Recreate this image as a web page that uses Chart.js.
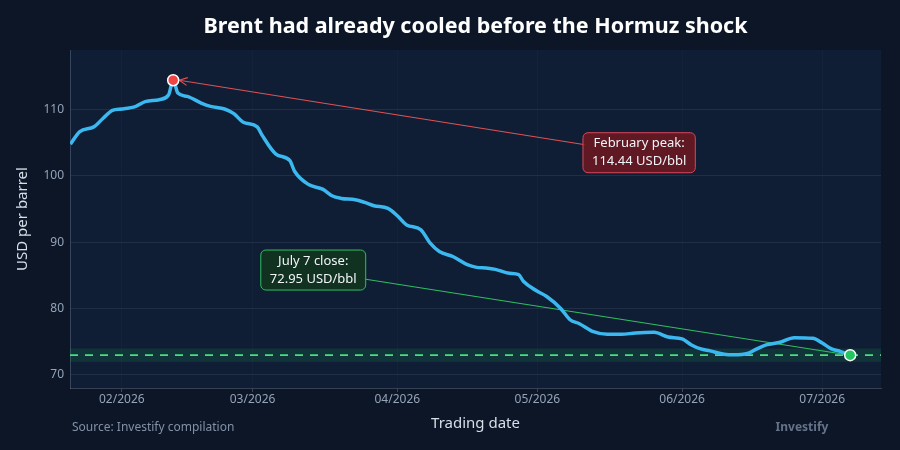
<!DOCTYPE html>
<html>
<head>
<meta charset="utf-8">
<script src="https://cdn.jsdelivr.net/npm/chart.js@4/dist/chart.umd.min.js"></script>
<style>
  html, body { margin: 0; padding: 0; background: #0c1627; }
  #wrap { width: 900px; height: 450px; position: relative; }
</style>
</head>
<body>
<div id="wrap"><canvas id="brent" width="900" height="450"></canvas></div>
<script>
(function() {

    "use strict";

    // Brent daily close, USD/bbl
    const dates = [
        '2026-01-21', '2026-01-23', '2026-01-26', '2026-01-28', '2026-01-30',
        '2026-02-01', '2026-02-04', '2026-02-06', '2026-02-09', '2026-02-11',
        '2026-02-12', '2026-02-13', '2026-02-15', '2026-02-18', '2026-02-20',
        '2026-02-23', '2026-02-25', '2026-02-27', '2026-03-02', '2026-03-03',
        '2026-03-06', '2026-03-09', '2026-03-10', '2026-03-13', '2026-03-16',
        '2026-03-18', '2026-03-20', '2026-03-23', '2026-03-25', '2026-03-27',
        '2026-03-30', '2026-04-01', '2026-04-03', '2026-04-06', '2026-04-08',
        '2026-04-10', '2026-04-13', '2026-04-16', '2026-04-18', '2026-04-20',
        '2026-04-22', '2026-04-25', '2026-04-27', '2026-04-28', '2026-05-01',
        '2026-05-03', '2026-05-06', '2026-05-08', '2026-05-10', '2026-05-13',
        '2026-05-16', '2026-05-19', '2026-05-22', '2026-05-26', '2026-05-29',
        '2026-06-01', '2026-06-03', '2026-06-05', '2026-06-07', '2026-06-10',
        '2026-06-12', '2026-06-15', '2026-06-17', '2026-06-19', '2026-06-22',
        '2026-06-25', '2026-06-29', '2026-07-01', '2026-07-03', '2026-07-05',
        '2026-07-07'
    ];
    const prices = [
        104.8, 106.7, 107.4, 108.7, 109.9,
        110.1, 110.5, 111.2, 111.5, 112.2,
        114.44, 112.5, 112.0, 111.0, 110.5,
        110.1, 109.4, 108.1, 107.4, 106.2,
        103.3, 102.3, 100.7, 98.7, 98.0,
        97.0, 96.6, 96.4, 96.0, 95.5,
        95.1, 94.0, 92.6, 91.9, 89.9,
        88.6, 87.8, 86.6, 86.2, 86.1,
        85.9, 85.3, 85.1, 84.1, 82.6,
        81.8, 80.0, 78.3, 77.7, 76.5,
        76.1, 76.1, 76.3, 76.4, 75.7,
        75.4, 74.5, 73.9, 73.6, 73.1,
        73.0, 73.2, 73.9, 74.5, 74.9,
        75.6, 75.5, 74.8, 73.9, 73.5,
        72.95
    ];
    const monthTicks = ['2026-02-01', '2026-03-01', '2026-04-01', '2026-05-01', '2026-06-01', '2026-07-01'];
    const yTicks = [70, 80, 90, 100, 110];

    const peakDate = '2026-02-12', peakValue = 114.44;
    const closeDate = '2026-07-07', closeValue = 72.95;

    const colors = {
        page: '#0c1627',
        plot: '#0f1d35',
        line: '#3bb8f0',
        grid: 'rgba(148,163,184,0.13)',
        tick: '#94a3b8',
        label: '#d7dee8',
        red: '#ef4444',
        green: '#22c55e'
    };

    const base = Date.UTC(2026, 0, 1);
    function dayNum(s) {
        const p = s.split('-');
        return Math.round((Date.UTC(+p[0], +p[1] - 1, +p[2]) - base) / 86400000);
    }
    function dayLabel(d) {
        const dt = new Date(base + d * 86400000);
        return String(dt.getUTCMonth() + 1).padStart(2, '0') + '/' + dt.getUTCFullYear();
    }

    const points = dates.map((d, i) => ({ x: dayNum(d), y: prices[i] }));
    const tickDays = monthTicks.map(dayNum);

    function roundRect(ctx, x, y, w, h, r) {
        ctx.beginPath();
        ctx.moveTo(x + r, y);
        ctx.arcTo(x + w, y, x + w, y + h, r);
        ctx.arcTo(x + w, y + h, x, y + h, r);
        ctx.arcTo(x, y + h, x, y, r);
        ctx.arcTo(x, y, x + w, y, r);
        ctx.closePath();
    }

    function labelBox(ctx, cx, cy, lines, fill, stroke) {
        ctx.font = '13px "Noto Sans", sans-serif';
        const w = Math.max(...lines.map(l => ctx.measureText(l).width)) + 18;
        const h = 40;
        roundRect(ctx, cx - w / 2, cy - h / 2, w, h, 5);
        ctx.fillStyle = fill;
        ctx.fill();
        ctx.lineWidth = 1;
        ctx.strokeStyle = stroke;
        ctx.stroke();
        ctx.fillStyle = '#f1f5f9';
        ctx.textAlign = 'center';
        ctx.textBaseline = 'middle';
        ctx.fillText(lines[0], cx, cy - 9);
        ctx.fillText(lines[1], cx, cy + 9);
    }

    const decor = {
        id: 'decor',
        beforeDraw(chart) {
            const ctx = chart.ctx, a = chart.chartArea;
            ctx.save();
            ctx.fillStyle = colors.page;
            ctx.fillRect(0, 0, chart.width, chart.height);
            ctx.fillStyle = colors.plot;
            ctx.fillRect(a.left, a.top, a.right - a.left, a.bottom - a.top);
            ctx.restore();
        },
        beforeDatasetsDraw(chart) {
            const ctx = chart.ctx, a = chart.chartArea;
            const xs = chart.scales.x, ys = chart.scales.y;
            ctx.save();
            // band round the July close
            const bTop = ys.getPixelForValue(closeValue + 1), bBot = ys.getPixelForValue(closeValue - 1);
            ctx.fillStyle = 'rgba(34,197,94,0.14)';
            ctx.fillRect(a.left, bTop, a.right - a.left, bBot - bTop);
            const yc = ys.getPixelForValue(closeValue);
            ctx.setLineDash([8, 7]);
            ctx.strokeStyle = '#4ade80';
            ctx.lineWidth = 1.7;
            ctx.beginPath();
            ctx.moveTo(a.left, yc);
            ctx.lineTo(a.right, yc);
            ctx.stroke();
            ctx.setLineDash([]);

            // connector lines
            const px = xs.getPixelForValue(dayNum(peakDate)), py = ys.getPixelForValue(peakValue);
            const bx = xs.getPixelForValue(141.8), by = ys.getPixelForValue(103.5);
            ctx.strokeStyle = '#e05252';
            ctx.lineWidth = 1.1;
            ctx.beginPath();
            ctx.moveTo(bx - 54, by - 8);
            ctx.lineTo(px + 6, py);
            ctx.stroke();
            const ang = Math.atan2((by - 8) - py, (bx - 54) - (px + 6));
            ctx.beginPath();
            ctx.moveTo(px + 6 + 9 * Math.cos(ang - 0.45), py + 9 * Math.sin(ang - 0.45));
            ctx.lineTo(px + 6, py);
            ctx.lineTo(px + 6 + 9 * Math.cos(ang + 0.45), py + 9 * Math.sin(ang + 0.45));
            ctx.stroke();

            const cx = xs.getPixelForValue(dayNum(closeDate));
            const gx = xs.getPixelForValue(72), gy = ys.getPixelForValue(85.8);
            ctx.strokeStyle = '#2fbf5f';
            ctx.beginPath();
            ctx.moveTo(gx + 51, gy + 9);
            ctx.lineTo(cx, yc);
            ctx.stroke();
            ctx.restore();
        },
        afterDatasetsDraw(chart) {
            const ctx = chart.ctx;
            const xs = chart.scales.x, ys = chart.scales.y;
            ctx.save();
            labelBox(ctx, xs.getPixelForValue(141.8), ys.getPixelForValue(103.5),
                ['February peak:', peakValue.toFixed(2) + ' USD/bbl'], 'rgba(110,24,30,0.85)', '#d9485a');
            labelBox(ctx, xs.getPixelForValue(72), ys.getPixelForValue(85.8),
                ['July 7 close:', closeValue.toFixed(2) + ' USD/bbl'], 'rgba(18,52,32,0.92)', '#2fbf5f');
            ctx.restore();
        },
        afterDraw(chart) {
            const ctx = chart.ctx, a = chart.chartArea;
            ctx.save();
            ctx.fillStyle = '#ffffff';
            ctx.font = 'bold 21.5px "Noto Sans", sans-serif';
            ctx.textAlign = 'center';
            ctx.textBaseline = 'middle';
            ctx.fillText('Brent had already cooled before the Hormuz shock', (a.left + a.right) / 2, 27);
            ctx.font = '12px "Noto Sans", sans-serif';
            ctx.fillStyle = '#8391a7';
            ctx.textAlign = 'left';
            ctx.fillText('Source: Investify compilation', 72, 428);
            ctx.font = 'bold 12px "Noto Sans", sans-serif';
            ctx.fillStyle = '#64738a';
            ctx.textAlign = 'center';
            ctx.fillText('Investify', 802, 428);
            ctx.restore();
        }
    };

    new Chart(document.getElementById('brent'), {
        type: 'line',
        data: {
            datasets: [{
                label: 'Brent',
                data: points,
                borderColor: colors.line,
                borderWidth: 3.5,
                cubicInterpolationMode: 'monotone',
                pointRadius: 0,
                fill: false,
                order: 2
            }, {
                label: 'Peak',
                data: [{ x: dayNum(peakDate), y: peakValue }],
                showLine: false,
                pointRadius: 5.5,
                pointBackgroundColor: colors.red,
                pointBorderColor: '#ffffff',
                pointBorderWidth: 1.5,
                order: 1
            }, {
                label: 'Close',
                data: [{ x: dayNum(closeDate), y: closeValue }],
                showLine: false,
                pointRadius: 5.5,
                pointBackgroundColor: colors.green,
                pointBorderColor: '#ffffff',
                pointBorderWidth: 1.5,
                order: 1
            }]
        },
        options: {
            responsive: false,
            animation: false,
            layout: { padding: { top: 50, right: 19, left: 0, bottom: 0 } },
            plugins: {
                legend: { display: false },
                tooltip: { enabled: false },
                title: { display: false }
            },
            scales: {
                x: {
                    type: 'linear',
                    min: 19.9,
                    max: 193.6,
                    afterBuildTicks: s => { s.ticks = tickDays.map(v => ({ value: v })); },
                    afterFit: s => { s.height = 62; },
                    ticks: {
                        color: colors.tick,
                        font: { family: '"Noto Sans", sans-serif', size: 12 },
                        padding: 0,
                        maxRotation: 0,
                        callback: v => dayLabel(v)
                    },
                    grid: { color: 'rgba(148,163,184,0.04)', tickColor: 'rgba(148,163,184,0.35)', tickLength: 4 },
                    border: { color: 'rgba(148,163,184,0.3)' },
                    title: {
                        display: true,
                        text: 'Trading date',
                        color: colors.label,
                        font: { family: '"Noto Sans", sans-serif', size: 15 },
                        padding: { top: 4, bottom: 17 }
                    }
                },
                y: {
                    min: 68,
                    max: 119,
                    afterBuildTicks: s => { s.ticks = yTicks.map(v => ({ value: v })); },
                    afterFit: s => { s.width = 70; },
                    ticks: {
                        color: colors.tick,
                        font: { family: '"Noto Sans", sans-serif', size: 12 },
                        padding: 6
                    },
                    grid: { color: colors.grid, tickLength: 0 },
                    border: { color: 'rgba(148,163,184,0.3)' },
                    title: {
                        display: true,
                        text: 'USD per barrel',
                        color: colors.label,
                        font: { family: '"Noto Sans", sans-serif', size: 15 },
                        padding: { top: 14, bottom: 4 }
                    }
                }
            }
        },
        plugins: [decor]
    });
})();
</script>
</body>
</html>
